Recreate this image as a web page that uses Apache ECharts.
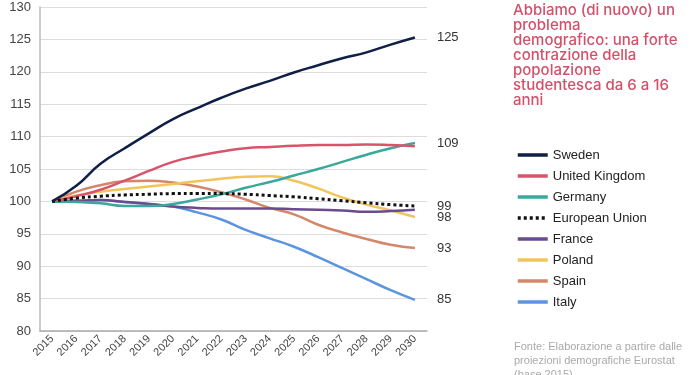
<!DOCTYPE html>
<html>
<head>
<meta charset="utf-8">
<script src="https://cdn.jsdelivr.net/npm/echarts@6/dist/echarts.min.js"></script>
<style>
  html, body { margin: 0; padding: 0; background: #fff; }
  #root { width: 700px; height: 375px; }
</style>
</head>
<body>
<div id="root"></div>
<script>
// anni e indici (2015 = 100)
const years = ['2015','2016','2017','2018','2019','2020','2021','2022','2023','2024','2025','2026','2027','2028','2029','2030'];
const sweden  = [100, 102.4, 105.8, 108.2, 110.5, 112.7, 114.4, 116.0, 117.4, 118.6, 119.9, 121.0, 122.1, 123.0, 124.2, 125.3];
const uk      = [100, 100.8, 101.8, 103.2, 104.7, 106.1, 107.0, 107.7, 108.2, 108.4, 108.6, 108.7, 108.7, 108.8, 108.7, 108.5];
const germany = [100, 99.9, 99.7, 99.3, 99.3, 99.6, 100.3, 101.1, 102.1, 103.0, 104.0, 105.0, 106.1, 107.2, 108.2, 109.0];
const eu      = [100, 100.5, 100.8, 101.0, 101.1, 101.2, 101.2, 101.2, 101.1, 100.9, 100.7, 100.4, 100.1, 99.8, 99.5, 99.3];
const france  = [100, 100.1, 100.2, 99.9, 99.6, 99.2, 99.0, 98.9, 98.9, 98.9, 98.8, 98.7, 98.6, 98.4, 98.5, 98.7];
const poland  = [100, 100.9, 101.5, 101.9, 102.3, 102.7, 103.1, 103.5, 103.8, 103.9, 103.2, 102.0, 100.6, 99.5, 98.6, 97.6];
const spain   = [100, 101.5, 102.5, 103.1, 103.2, 102.9, 102.3, 101.4, 100.3, 99.0, 98.0, 96.4, 95.2, 94.2, 93.3, 92.8];
const italy   = [100, 100.1, 100.2, 99.9, 99.6, 99.2, 98.3, 97.2, 95.6, 94.3, 93.0, 91.4, 89.7, 88.0, 86.3, 84.8];

const titleLines = ['Abbiamo (di nuovo) un', 'problema', 'demografico: una forte', 'contrazione della', 'popolazione', 'studentesca da 6 a 16', 'anni'];
const sourceLines = ['Fonte: Elaborazione a partire dalle', 'proiezioni demografiche Eurostat', '(base 2015)'];

function line(name, data, color, showEnd, dash) {
  return {
    name: name,
    type: 'line',
    data: data,
    smooth: true,
    symbol: 'none',
    lineStyle: { color: color, width: dash ? 3 : 2.5, type: dash ? [3, 3] : 'solid' },
    itemStyle: { color: color },
    endLabel: {
      show: showEnd,
      distance: 22,
      color: '#333',
      fontSize: 13,
      fontFamily: 'Liberation Sans',
      formatter: p => Math.round(p.value)
    }
  };
}

let myCharts = echarts.init(document.getElementById('root'));
let option = {
  animation: false,
  title: {
    text: titleLines.join('\n'),
    left: 513,
    top: 3,
    padding: 0,
    textStyle: { color: '#d4506a', fontSize: 15, fontWeight: 500, fontFamily: 'Inter', lineHeight: 15 }
  },
  graphic: [{
    type: 'text',
    left: 514,
    top: 340,
    style: { text: sourceLines.join('\n'), fill: '#aaa', font: '300 11px "Liberation Sans"', lineHeight: 14 }
  }],
  legend: {
    orient: 'vertical',
    left: 516,
    top: 148,
    padding: 0,
    itemWidth: 30,
    itemHeight: 14,
    itemGap: 7,
    itemStyle: { opacity: 0 },
    lineStyle: { width: 3.5 },
    textStyle: { color: '#222', fontSize: 13, fontFamily: 'Liberation Sans', lineHeight: 14 },
    data: ['Sweden','United Kingdom','Germany','European Union','France','Poland','Spain','Italy']
  },
  grid: { left: 40, top: 7, right: 273, bottom: 44 },
  xAxis: {
    type: 'category',
    data: years,
    axisLine: { lineStyle: { color: '#aaa', width: 1.5 } },
    axisTick: { show: false },
    axisLabel: { rotate: 45, color: '#444', fontSize: 11, fontFamily: 'Liberation Sans', margin: 6 }
  },
  yAxis: {
    type: 'value',
    min: 80,
    max: 130,
    interval: 5,
    axisLine: { show: true, lineStyle: { color: '#bbb', width: 1.5 } },
    axisLabel: { color: '#444', fontSize: 13, fontFamily: 'Liberation Sans', margin: 9 },
    splitLine: { lineStyle: { color: '#ddd' } }
  },
  series: [
    line('Italy', italy, '#5b95e0', true),
    line('Spain', spain, '#d4876a', true),
    line('Poland', poland, '#f0c55c', true),
    line('France', france, '#6a4b90', false),
    line('Germany', germany, '#3aa89b', true),
    line('United Kingdom', uk, '#d9546b', false),
    line('European Union', eu, '#111', true, true),
    line('Sweden', sweden, '#0f1f45', true)
  ]
};
myCharts.setOption(option);
</script>
</body>
</html>
